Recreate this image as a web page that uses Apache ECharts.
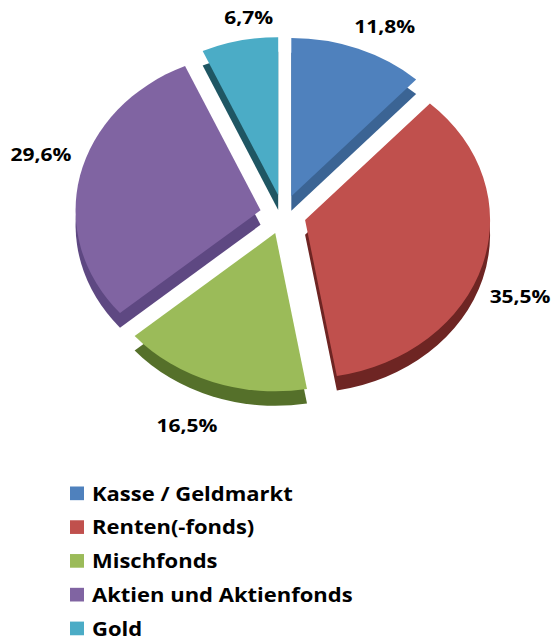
<!DOCTYPE html>
<html>
<head>
<meta charset="utf-8">
<script src="https://cdn.jsdelivr.net/npm/echarts@6/dist/echarts.min.js"></script>
<style>
  html, body { margin: 0; padding: 0; background: #fff; }
  #wrap { width: 557px; height: 640px; overflow: hidden; }
  /* the original is a tilted pie: draw it round, then flatten the whole view */
  #chart { width: 557px; height: 749px; transform: scaleY(0.855); transform-origin: 0 0; }
</style>
</head>
<body>
<div id="wrap"><div id="chart"></div></div>
<script>
const categories = ['Kasse / Geldmarkt', 'Renten(-fonds)', 'Mischfonds', 'Aktien und Aktienfonds', 'Gold']
const shares = [11.8, 35.5, 16.5, 29.6, 6.7]
const topColors = ['#4F81BD', '#C0504D', '#9BBB59', '#8064A2', '#4BACC6']
const sideColors = ['#3B6494', '#6E2523', '#55702A', '#5E4882', '#1F5663']

const chart = echarts.init(document.getElementById('chart'), null, { renderer: 'svg' })

const center = [283, 251]
const radius = 185
const explode = 23
const depth = 17
const labelTurn = 4 * Math.PI / 180 // Excel nudges labels a bit clockwise

// centre each label on its slice's radial line, just outside the rim
const placeLabel = p => {
  const r = p.labelRect
  const cx = r.x + r.width / 2
  const cy = r.y + r.height / 2
  const ax = p.align === 'right' ? r.x + r.width + 5 : r.x - 5
  const ay = cy
  let vx = ax - center[0]
  let vy = ay - center[1]
  const len = Math.hypot(vx, vy) || 1
  const c = Math.cos(labelTurn), s = Math.sin(labelTurn)
  const ux = (vx * c - vy * s) / len
  const uy = (vx * s + vy * c) / len
  const half = r.width / 2 * Math.abs(ux) + r.height / 2 * Math.abs(uy)
  const dist = len + half
  let tx = center[0] + ux * dist
  let ty = center[1] + uy * dist
  if (uy > 0) ty += (depth + 9) * uy
  return { dx: tx - cx, dy: ty - cy }
}

const option = {
  animation: false,
  backgroundColor: '#fff',
  textStyle: { fontFamily: 'Open Sans' },
  legend: {
    orient: 'vertical',
    left: 70,
    top: 566,
    padding: 0,
    height: 200,
    itemWidth: 14,
    itemHeight: 16,
    itemGap: 17.5,
    icon: 'rect',
    selectedMode: false,
    textStyle: { fontSize: 22, lineHeight: 22, fontWeight: 'bold', color: '#000', fontFamily: 'Open Sans', padding: [0, 0, 0, 3] },
    data: categories.map((c, i) => ({ name: c, itemStyle: { color: topColors[i] } }))
  },
  series: [
    {
      // side / depth layer
      type: 'pie',
      z: 1,
      silent: true,
      center: [center[0], center[1] + depth],
      radius: radius,
      startAngle: 90,
      selectedMode: 'multiple',
      selectedOffset: explode,
      label: { show: false },
      labelLine: { show: false },
      data: categories.map((c, i) => ({
        name: c, value: shares[i], selected: true,
        itemStyle: { color: sideColors[i] }
      }))
    },
    {
      type: 'pie',
      z: 2,
      center: center,
      radius: radius,
      startAngle: 90,
      selectedMode: 'multiple',
      selectedOffset: explode,
      label: {
        show: true,
        position: 'outside',
        formatter: p => p.value.toFixed(1).replace('.', ',') + '%',
        fontSize: 21,
        fontWeight: 'bold',
        color: '#000',
        fontFamily: 'Open Sans'
      },
      labelLine: { show: false, length: 12, length2: 0 },
      labelLayout: placeLabel,
      data: categories.map((c, i) => ({
        name: c, value: shares[i], selected: true,
        itemStyle: { color: topColors[i] }
      }))
    }
  ]
}

chart.setOption(option)
</script>
</body>
</html>
